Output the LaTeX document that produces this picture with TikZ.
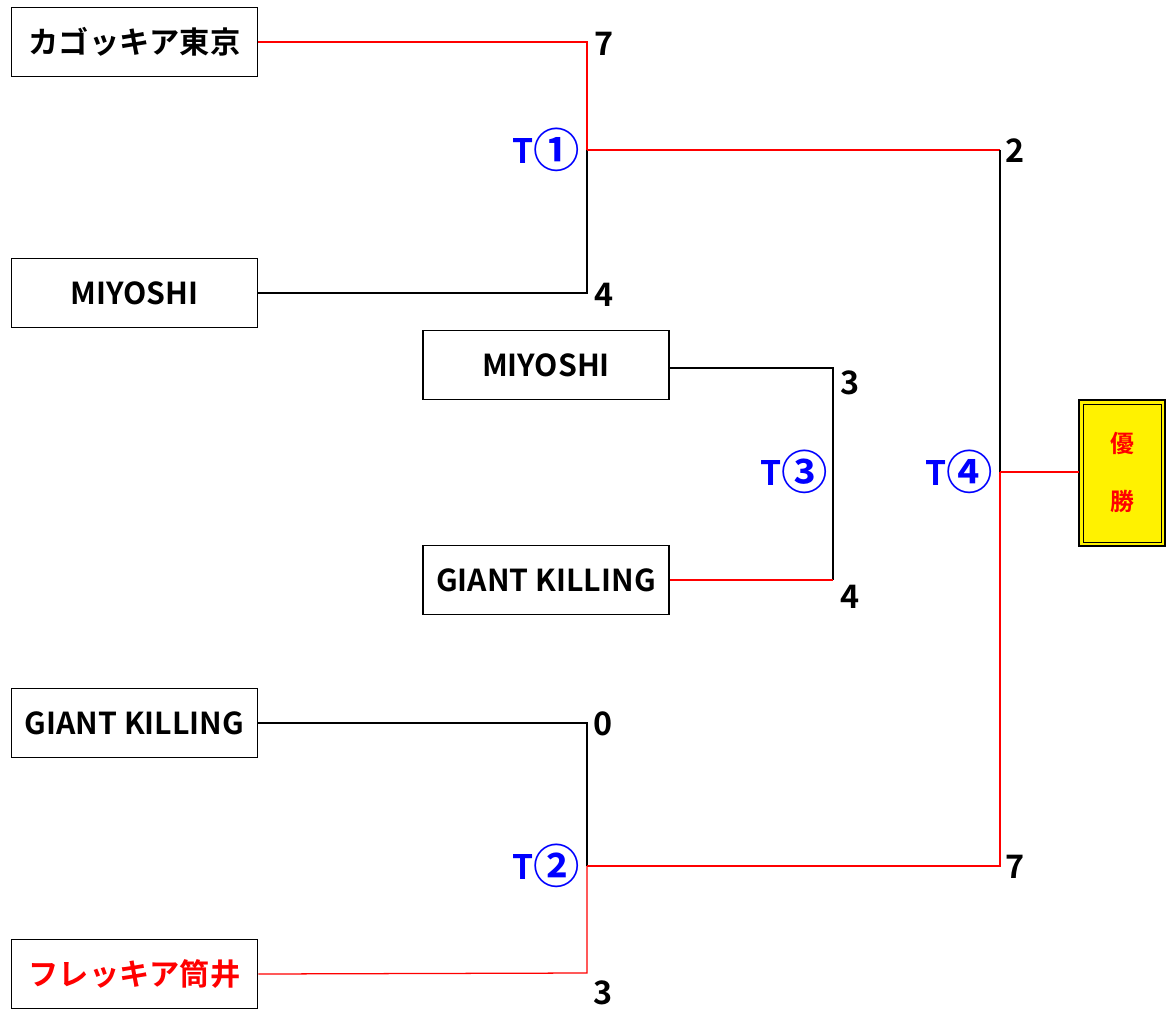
\documentclass[tikz,border=0pt]{standalone}
\usepackage{fontspec}
\setmainfont{Noto Sans CJK JP}[BoldFont={Noto Sans CJK JP Bold}]
\newcommand{\circnum}[1]{{\fontsize{33}{33}\selectfont\raisebox{-0.08em}{#1}}}
\begin{document}
\begin{tikzpicture}[x=0.025cm,y=-0.025cm,
    team/.style={draw,line width=1.1pt,minimum width=6.15cm,minimum height=1.72cm,inner sep=0pt,font=\bfseries\fontsize{21.5}{21.5}\selectfont},
    score/.style={font=\bfseries\fontsize{23}{23}\selectfont,inner sep=0pt},
    game/.style={font=\bfseries\fontsize{24}{24}\selectfont,text=blue,inner sep=0pt},
    win/.style={red,line width=0.9pt},
    lose/.style={black,line width=0.9pt}]

    \useasboundingbox (0,0) rectangle (1168,1011);

    \node[team] (tokyo) at (134.5,42) {カゴッキア東京};
    \node[team] (miyoshiA) at (134.5,293) {MIYOSHI};
    \node[team] (miyoshiB) at (546,365) {MIYOSHI};
    \node[team] (giantB) at (546,580) {GIANT KILLING};
    \node[team] (giantA) at (134.5,723) {GIANT KILLING};
    \node[team,text=red] (tsutsui) at (134.5,974) {フレッキア筒井};

    \draw[line width=1.4pt,fill=yellow] (1079,400) rectangle (1165,546);
    \draw[line width=0.6pt] (1083,404) rectangle (1161,542);
    \node[font=\bfseries\fontsize{17}{17}\selectfont,text=red,align=center,inner sep=0pt] (champ) at (1122,472) {優\\[0.85cm]勝};
    \coordinate (champin) at (1079,472);

    \coordinate (t1) at (587,150);
    \coordinate (t2) at (587,866);
    \coordinate (t3) at (833,472);
    \coordinate (t4) at (1000,472);

    \draw[win] (tokyo.east) -- (587,42) -- (t1);
    \draw[lose] (miyoshiA.east) -- (587,293) -- (t1);
    \draw[win] (t1) -- (1000,150);
    \draw[lose] (1000,150) -- (t4);

    \draw[lose] (miyoshiB.east |- 0,368) -- (833,368) -- (833,580);
    \draw[win] (giantB.east) -- (833,580);

    \draw[lose] (giantA.east) -- (587,723) -- (t2);
    \draw[win] (tsutsui.east) -- (587,973) -- (t2);
    \draw[win] (t2) -- (1000,866) -- (t4);
    \draw[win] (t4) -- (champin);

    \node[score] (s1) at (604,44) {7};
    \node[score] (s2) at (604,295) {4};
    \node[score] (s3) at (1015,151) {2};
    \node[score] (s4) at (1015,867) {7};
    \node[score] (s5) at (850,383) {3};
    \node[score] (s6) at (850,597) {4};
    \node[score] (s7) at (603,724) {0};
    \node[score] (s8) at (603,993) {3};

    \node[game] (g1) at (546,150) {T\circnum{①}};
    \node[game] (g2) at (546,866) {T\circnum{②}};
    \node[game] (g3) at (794,472) {T\circnum{③}};
    \node[game] (g4) at (959,472) {T\circnum{④}};
\end{tikzpicture}
\end{document}
